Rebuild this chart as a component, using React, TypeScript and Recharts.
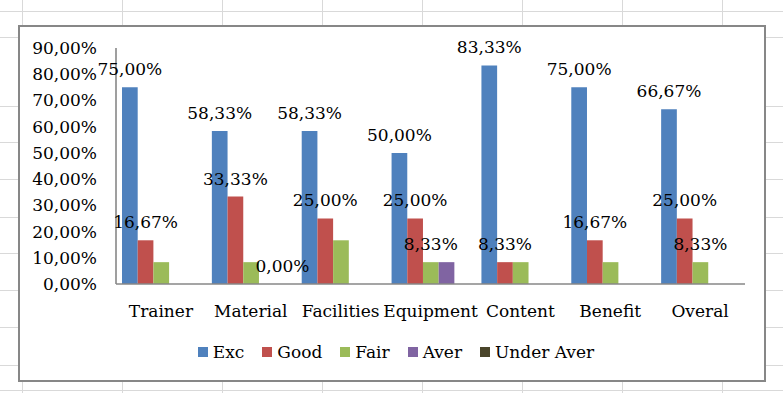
import React from 'react';
import { BarChart, Bar, XAxis, YAxis, Legend, LabelList } from 'recharts';

const categories = ['Trainer', 'Material', 'Facilities', 'Equipment', 'Content', 'Benefit', 'Overal'];
const excValues = [75, 58.33, 58.33, 50, 83.33, 75, 66.67];
const goodValues = [16.67, 33.33, 25, 25, 8.33, 16.67, 25];
const fairValues = [8.33, 8.33, 16.67, 8.33, 8.33, 8.33, 8.33];
const averValues = [0, 0, 0, 8.33, 0, 0, 0];
const underAverValues = [0, 0, 0, 0, 0, 0, 0];
const yTicks = [0, 10, 20, 30, 40, 50, 60, 70, 80, 90];

// which bars carry a visible data label (category, series key)
const labeledBars: [string, string][] = [
  ['Trainer', 'exc'], ['Trainer', 'good'],
  ['Material', 'exc'], ['Material', 'good'], ['Material', 'underAver'],
  ['Facilities', 'exc'], ['Facilities', 'good'],
  ['Equipment', 'exc'], ['Equipment', 'good'], ['Equipment', 'fair'],
  ['Content', 'exc'], ['Content', 'good'],
  ['Benefit', 'exc'], ['Benefit', 'good'],
  ['Overal', 'exc'], ['Overal', 'good'], ['Overal', 'fair'],
];

const series = [
  { key: 'exc', name: 'Exc', color: '#4F81BD' },
  { key: 'good', name: 'Good', color: '#C0504D' },
  { key: 'fair', name: 'Fair', color: '#9BBB59' },
  { key: 'aver', name: 'Aver', color: '#8064A2' },
  { key: 'underAver', name: 'Under Aver', color: '#4A452A' },
];

const data = categories.map((c, i) => ({
  category: c,
  exc: excValues[i],
  good: goodValues[i],
  fair: fairValues[i],
  aver: averValues[i],
  underAver: underAverValues[i],
}));

const FONT = '"DejaVu Serif", serif';
const fmt = (v: number) => v.toFixed(2).replace('.', ',') + '%';

const hLines = [11, 37, 106, 142, 179, 217, 253, 290, 327, 365, 390];
const vLines = [22, 122, 222, 322, 422, 522, 622, 722];

const makeLabel = (seriesKey: string) => (props: any) => {
  const vb = props.viewBox || props;
  const idx = props.index;
  if (idx === undefined || idx === null) return null;
  const cat = categories[idx];
  const show = labeledBars.some(([c, s]) => c === cat && s === seriesKey);
  if (!show) return null;
  const x = Number(vb.x) + Number(vb.width) / 2;
  const y = Number(vb.y);
  return (
    <text x={x} y={y - 12} textAnchor="middle" fill="#000" fontSize={17} fontFamily={FONT}>
      {fmt(Number(props.value))}
    </text>
  );
};

const renderLegend = () => (
  <div
    style={{
      display: 'flex',
      justifyContent: 'center',
      width: 783,
      paddingLeft: 9,
      boxSizing: 'border-box',
      fontFamily: FONT,
      fontSize: 17,
      lineHeight: '20px',
      color: '#000',
    }}
  >
    {series.map((s, i) => (
      <div key={s.key} style={{ display: 'flex', alignItems: 'center', marginRight: i < series.length - 1 ? 18 : 0 }}>
        <span style={{ display: 'inline-block', width: 10, height: 10, background: s.color, marginRight: 5 }} />
        <span>{s.name}</span>
      </div>
    ))}
  </div>
);

export default function App() {
  return (
    <div style={{ position: 'absolute', left: 0, top: 0, width: 783, height: 393, overflow: 'hidden', background: '#fff' }}>
      {hLines.map((y) => (
        <div key={'h' + y} style={{ position: 'absolute', left: 0, top: y, width: 783, height: 1, background: '#d9d9d9' }} />
      ))}
      {vLines.map((x) => (
        <div key={'v' + x} style={{ position: 'absolute', left: x, top: 0, width: 1, height: 393, background: '#d9d9d9' }} />
      ))}
      <div
        style={{
          position: 'absolute',
          left: 18,
          top: 25,
          width: 748,
          height: 357,
          border: '2px solid #878787',
          boxSizing: 'border-box',
          background: '#fff',
        }}
      />
      <div style={{ position: 'absolute', left: 0, top: 0 }}>
        <BarChart
          width={783}
          height={393}
          data={data}
          margin={{ top: 48, right: 38, bottom: 69, left: 0 }}
          barGap={0}
          style={{ fontFamily: FONT }}
        >
          <XAxis
            dataKey="category"
            height={40}
            tickLine={false}
            tickSize={0}
            tickMargin={21}
            axisLine={{ stroke: '#878787', strokeWidth: 1.6 }}
            tick={{ fill: '#000', fontSize: 17, fontFamily: FONT }}
            interval={0}
          />
          <YAxis
            width={116}
            domain={[0, 90]}
            ticks={yTicks}
            tickFormatter={fmt}
            tickLine={false}
            tickSize={0}
            tickMargin={19}
            axisLine={{ stroke: '#878787', strokeWidth: 1.6 }}
            tick={{ fill: '#000', fontSize: 17, fontFamily: FONT }}
            allowDataOverflow
          />
          <Legend
            verticalAlign="middle"
            align="center"
            layout="horizontal"
            wrapperStyle={{ left: 0, top: 342, width: 783 }}
            content={renderLegend}
          />
          {series.map((s) => (
            <Bar
              key={s.key}
              dataKey={s.key}
              name={s.name}
              fill={s.color}
              barSize={15.7}
              minPointSize={0.001}
              isAnimationActive={false}
            >
              <LabelList dataKey={s.key} content={makeLabel(s.key)} />
            </Bar>
          ))}
        </BarChart>
      </div>
    </div>
  );
}
